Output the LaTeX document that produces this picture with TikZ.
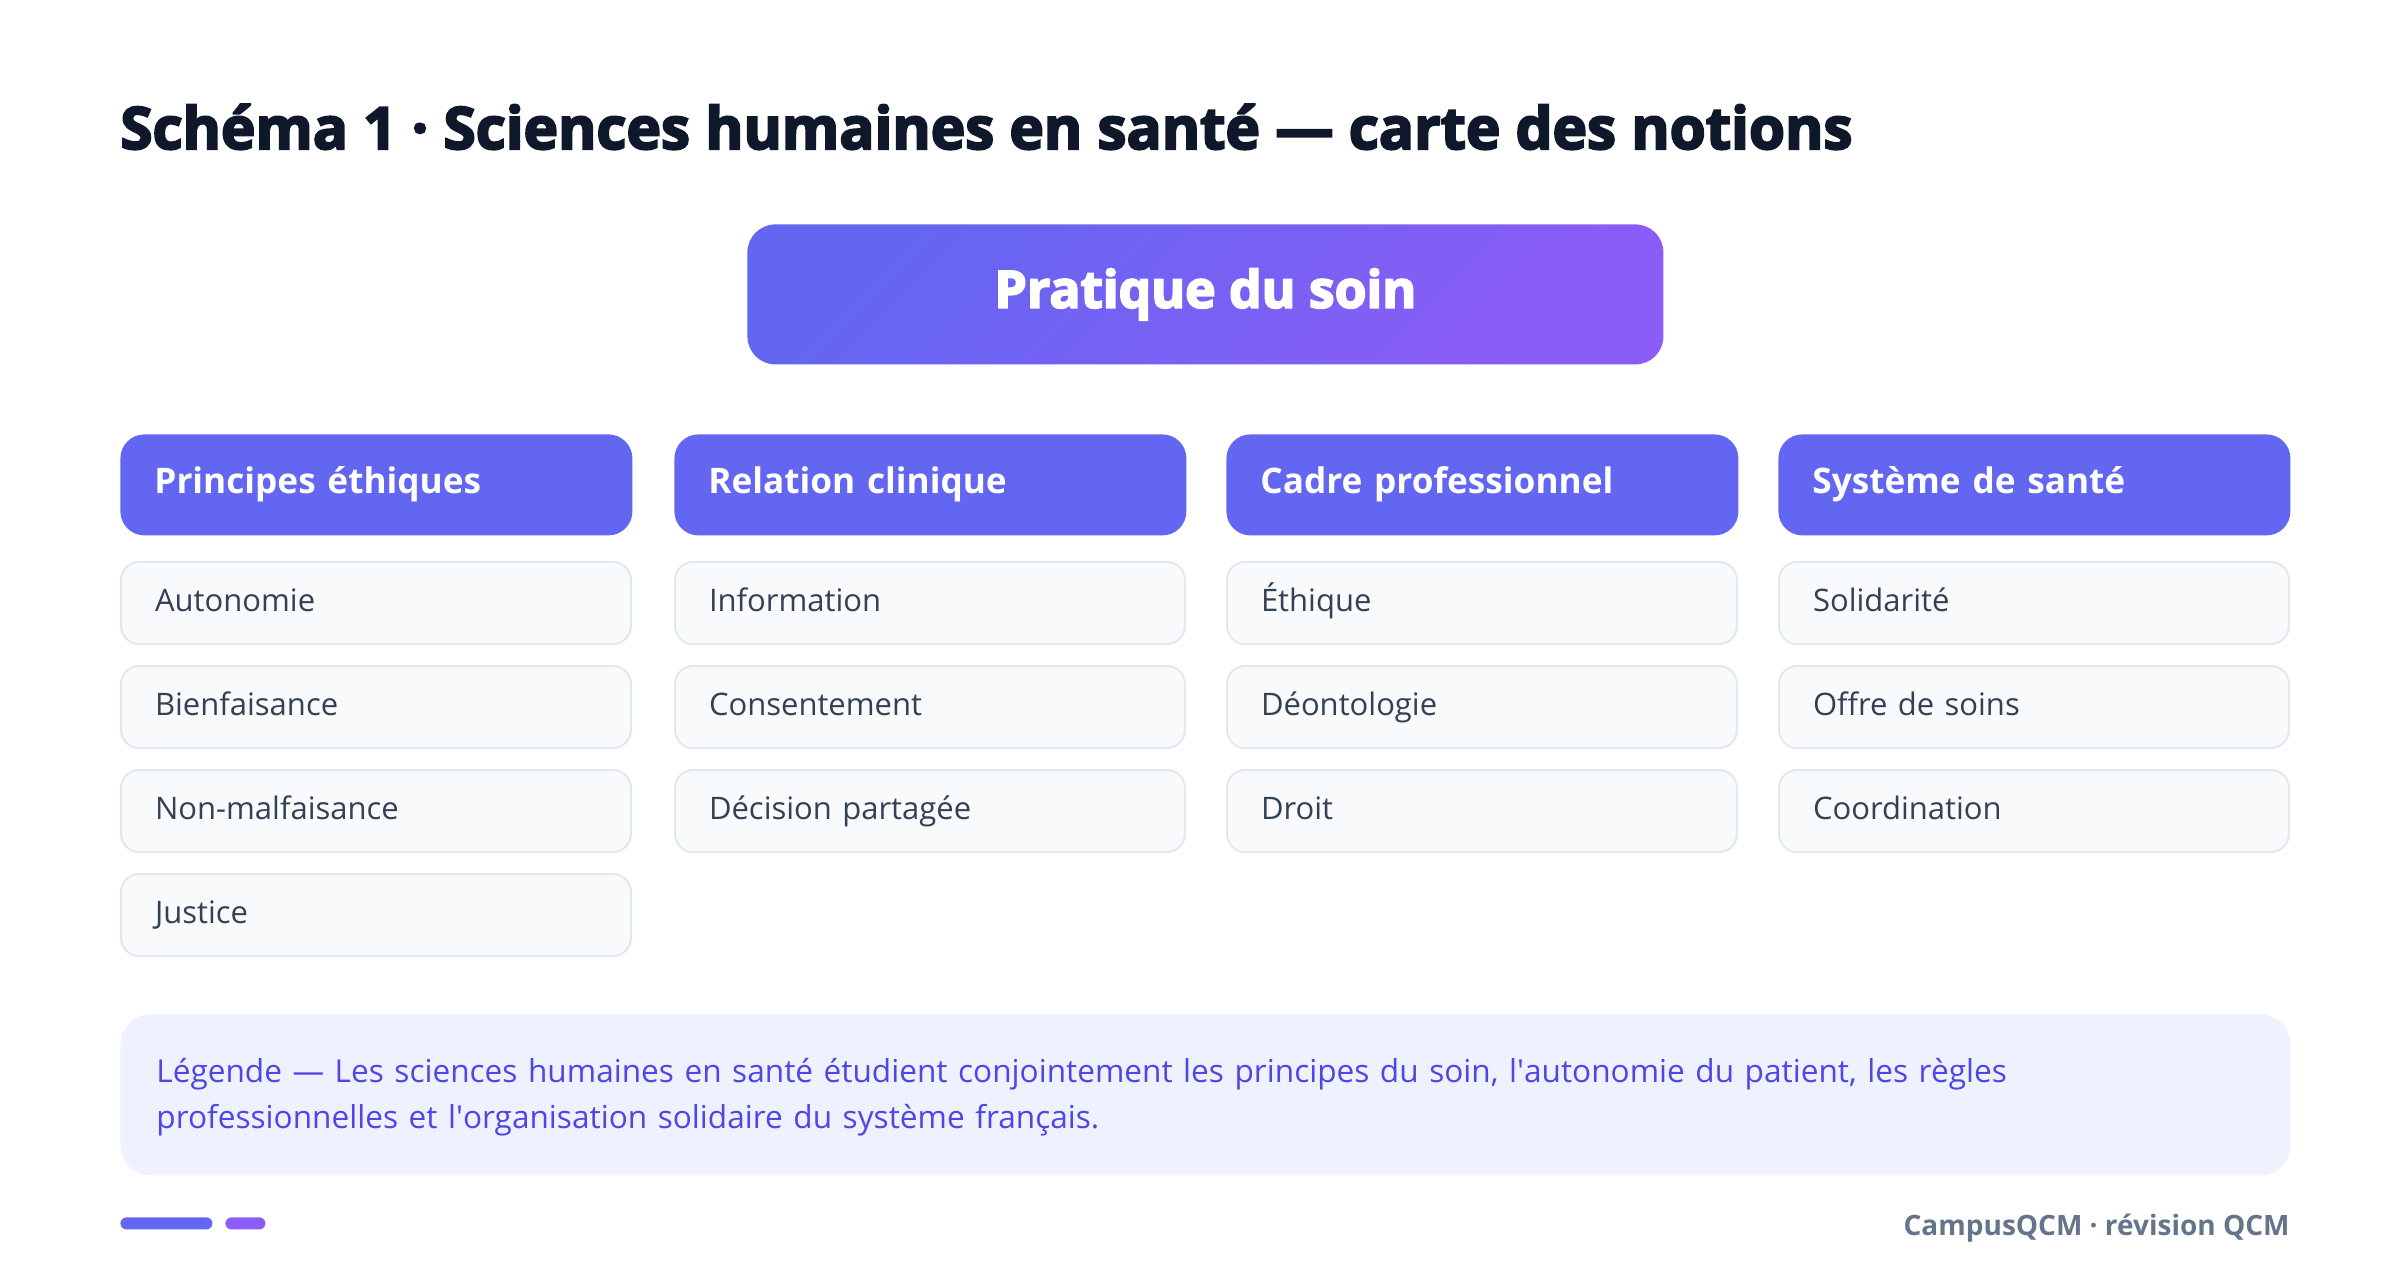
\documentclass[tikz,border=0pt]{standalone}
\usepackage{fontspec}
\setmainfont{Open Sans}
\newfontfamily\heavy{Open Sans}[BoldFeatures={FakeBold=3.5}]
\definecolor{indigo}{HTML}{6366F1}
\definecolor{violet}{HTML}{8B5CF6}
\definecolor{ink}{HTML}{0F172A}
\definecolor{slate}{HTML}{334155}
\definecolor{edge}{HTML}{E2E8F0}
\definecolor{card}{HTML}{F8FAFC}
\definecolor{legfill}{HTML}{EEF2FF}
\definecolor{legtxt}{HTML}{4F46E5}
\definecolor{muted}{HTML}{64748B}

\tikzset{hd/.style={fill=indigo, rounded corners=12pt, anchor=north west, text width=222pt, inner xsep=17pt, inner ysep=0pt, minimum height=50.5pt, text height=13pt, text depth=4pt, text=white, align=left, font=\bfseries\fontsize{17.6}{21}\selectfont},
         it/.style={draw=edge, fill=card, line width=1pt, rounded corners=9pt, anchor=north west, text width=221pt, inner xsep=17pt, inner ysep=0pt, minimum height=41pt, text height=11.5pt, text depth=3.5pt, text=slate, align=left, font=\fontsize{15.5}{19}\selectfont},
         bar/.style={rounded corners=3pt, anchor=north west, minimum height=6pt, inner sep=0pt}}

\begin{document}
\begin{tikzpicture}[x=0.5pt, y=-0.5pt]
\useasboundingbox (0,0) rectangle (2400,1278);
\node[anchor=base west, inner sep=0pt, text=ink, font=\heavy\bfseries\fontsize{29.2}{34}\selectfont] (title) at (120,149) {Schéma 1 · Sciences humaines en santé — carte des notions};
\node[anchor=north west, minimum width=458pt, minimum height=70pt, rounded corners=14pt, top color=indigo, bottom color=violet, shading angle=45, text=white, font=\heavy\bfseries\fontsize{25.8}{30}\selectfont] (soin) at (747,224) {Pratique du soin};

\node[hd] (pe) at (120,434) {Principes éthiques};
\node[hd] (rc) at (674,434) {Relation clinique};
\node[hd] (cp) at (1226,434) {Cadre professionnel};
\node[hd] (ss) at (1778,434) {Système de santé};

\node[it] (pe1) at (120,561) {Autonomie};
\node[it] (pe2) at (120,665) {Bienfaisance};
\node[it] (pe3) at (120,769) {Non-malfaisance};
\node[it] (pe4) at (120,873) {Justice};
\node[it] (rc1) at (674,561) {Information};
\node[it] (rc2) at (674,665) {Consentement};
\node[it] (rc3) at (674,769) {Décision partagée};
\node[it] (cp1) at (1226,561) {Éthique};
\node[it] (cp2) at (1226,665) {Déontologie};
\node[it] (cp3) at (1226,769) {Droit};
\node[it] (ss1) at (1778,561) {Solidarité};
\node[it] (ss2) at (1778,665) {Offre de soins};
\node[it] (ss3) at (1778,769) {Coordination};

\node[anchor=north west, fill=legfill, rounded corners=15pt, text width=1049pt, inner xsep=18pt, inner ysep=0pt, minimum height=80.5pt, text=legtxt, align=left, font=\fontsize{15.8}{23}\selectfont] (leg) at (120,1014)
  {\rule{0pt}{14pt}Légende — Les sciences humaines en santé étudient conjointement les principes du soin, l\textquotesingle autonomie du patient, les règles\\ professionnelles et l\textquotesingle organisation solidaire du système français.};

\node[bar, fill=indigo, minimum width=46pt] (bar1) at (120,1217) {};
\node[bar, fill=violet, minimum width=20pt] (bar2) at (225,1217) {};
\node[anchor=base east, inner sep=0pt, text=muted, font=\bfseries\fontsize{14}{17}\selectfont] (foot) at (2290,1235) {CampusQCM · révision QCM};
\end{tikzpicture}
\end{document}
